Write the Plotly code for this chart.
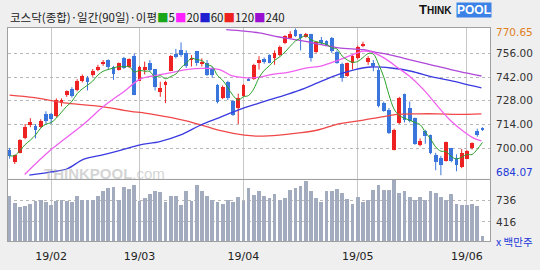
import plotly.graph_objects as go
import pandas as pd

# ---------------- data ----------------
opens = [699.2, 692.1, 697.3, 705.8, 713.9, 713.4, 712.8, 720.0, 720.0, 719.0,
         726.6, 731.3, 735.0, 734.1, 739.8, 741.6, 743.0, 746.0, 749.6, 752.0,
         747.9, 746.4, 753.0, 747.9, 754.3, 739.8, 746.4, 750.5, 746.7, 733.2,
         737.3, 745.4, 755.4, 758.1, 756.2, 752.0, 757.3, 749.8, 750.5, 747.3,
         737.3, 729.4, 739.2, 727.9, 723.7, 730.9, 741.1, 740.7, 750.5, 752.4,
         754.9, 753.0, 754.9, 761.8, 764.8, 769.9, 767.1, 765.6, 767.1, 756.7,
         763.7, 763.3, 765.2, 756.7, 749.8, 742.6, 750.5, 753.0, 760.5, 751.1,
         750.1, 746.4, 726.6, 722.8, 698.9, 714.7, 732.2, 723.7, 717.7, 702.0,
         710.2, 707.7, 695.8, 694.5, 692.6, 700.2, 694.5, 688.9, 693.9, 700.2,
         710.2, 711.8]
highs = [700.2, 696.2, 705.3, 714.3, 717.7, 714.3, 717.1, 721.8, 720.9, 729.4,
         729.4, 734.1, 736.0, 740.7, 743.5, 742.6, 746.7, 749.2, 752.0, 752.4,
         748.6, 750.5, 753.9, 753.0, 755.8, 748.6, 751.1, 752.0, 746.7, 739.2,
         739.8, 754.9, 758.6, 762.4, 757.7, 754.9, 757.3, 753.0, 752.0, 748.2,
         737.9, 737.0, 739.8, 728.4, 732.2, 737.9, 741.6, 749.8, 754.3, 753.5,
         755.4, 757.7, 760.5, 766.7, 769.0, 770.65, 767.5, 768.0, 767.5, 763.0,
         765.6, 763.7, 765.6, 757.7, 750.5, 750.5, 754.9, 760.5, 762.8, 754.3,
         752.0, 747.3, 727.5, 723.7, 711.5, 730.3, 732.2, 727.5, 718.1, 705.8,
         710.9, 708.1, 697.3, 695.5, 703.9, 700.2, 696.4, 699.6, 698.9, 703.4,
         711.5, 712.4]
lows = [693.9, 690.7, 697.0, 705.3, 712.4, 705.8, 712.0, 714.3, 714.3, 718.1,
        724.7, 730.3, 729.8, 733.5, 738.8, 734.1, 742.2, 745.4, 748.6, 746.4,
        740.3, 745.8, 746.7, 747.3, 731.3, 739.8, 743.5, 745.4, 734.1, 730.3,
        726.6, 745.4, 753.0, 753.9, 747.3, 748.2, 748.6, 748.2, 742.6, 741.6,
        726.4, 729.0, 728.4, 719.0, 714.3, 730.3, 739.8, 740.3, 746.4, 749.8,
        750.1, 749.2, 754.3, 761.4, 764.5, 765.6, 757.7, 765.2, 751.1, 756.2,
        761.1, 760.5, 756.2, 749.8, 739.2, 742.2, 746.4, 752.4, 759.6, 749.2,
        745.4, 724.1, 721.5, 708.3, 698.7, 714.3, 715.2, 715.2, 702.0, 701.1,
        702.6, 696.4, 687.0, 684.07, 692.1, 691.7, 686.4, 688.3, 693.6, 699.2,
        706.8, 710.2]
closes = [695.5, 695.8, 704.9, 712.4, 715.2, 710.9, 716.2, 716.2, 717.1, 728.4,
          728.4, 733.5, 730.7, 739.8, 742.6, 739.2, 745.8, 748.2, 751.1, 747.9,
          743.5, 750.1, 747.3, 752.4, 731.3, 748.2, 747.9, 746.4, 736.0, 735.4,
          739.2, 754.3, 753.9, 754.9, 748.6, 753.3, 750.5, 751.1, 743.0, 743.0,
          727.1, 736.4, 729.4, 719.6, 729.4, 737.0, 740.1, 749.2, 752.0, 751.1,
          750.5, 756.2, 759.9, 766.2, 767.5, 766.2, 764.8, 767.5, 753.5, 762.4,
          761.8, 761.1, 757.3, 750.1, 741.6, 750.1, 754.3, 759.9, 761.4, 753.5,
          748.6, 724.7, 722.2, 709.0, 710.9, 729.8, 716.6, 716.2, 702.6, 704.5,
          707.3, 697.3, 692.1, 690.2, 703.4, 692.6, 690.2, 697.3, 698.3, 703.0,
          708.1, 710.5]
volumes = [809, 707, 649, 668, 692, 731, 751, 721, 683, 736,
           751, 736, 721, 809, 760, 760, 760, 809, 886, 935,
           949, 760, 949, 915, 983, 741, 780, 848, 886, 872,
           721, 809, 809, 683, 886, 736, 974, 886, 809, 760,
           721, 692, 755, 721, 794, 736, 935, 823, 886, 809,
           780, 848, 760, 789, 911, 940, 959, 1041, 896, 789,
           721, 886, 886, 925, 857, 775, 692, 799, 721, 760,
           911, 974, 901, 911, 1051, 857, 896, 799, 760, 794,
           760, 896, 857, 799, 760, 848, 692, 683, 683, 692,
           658, 212]

# moving averages at sample positions (day index, value)
ma20_idx = [2.9, 8, 14.3, 18.1, 22.3, 25.1, 27.6, 30.9, 34, 37.2, 40.4, 42.9, 45.2,
            47.4, 50.6, 53.8, 57, 60.1, 63.3, 65.8, 68.1, 69.7, 72.2, 74.8, 77.3,
            79.8, 82.4, 84.9, 87.5, 89.4, 90.8]
ma20_val = [684.5, 699.2, 714.3, 724.7, 734.1, 740.7, 742.6, 744.5, 746.4, 747.1, 746.4,
            742.6, 741.6, 741.6, 743.5, 744.9, 747.3, 748.6, 752.0, 754.9, 757.3,
            756.7, 753.0, 747.3, 741.6, 734.1, 724.7, 716.2, 709.6, 705.8, 704.3]
ma60_idx = [3.8, 8, 11.1, 14.3, 17.5, 22.3, 25.1, 28.9, 32.8, 36.6, 40.4, 44.2, 48.0,
            51.9, 55.7, 59.5, 63.3, 66.5, 69.6, 73.4, 77.3, 81.1, 84.9, 88.7, 90.8]
ma60_val = [684.1, 686.0, 687.9, 693.6, 695.8, 699.6, 702.0, 703.9, 707.7, 713.4,
            718.1, 722.8, 726.6, 730.3, 734.1, 738.8, 743.5, 746.4, 747.9, 747.3,
            745.4, 742.2, 739.8, 737.0, 735.6]
ma120_idx = [0, 4.8, 11.1, 17.5, 22.3, 27.6, 34, 40.4, 45.2, 48, 51.9, 55.7, 59.5,
             63.3, 68.1, 70.9, 74.7, 78.6, 82.4, 86.2, 90.8]
ma120_val = [731.3, 729.8, 726.6, 724.7, 722.2, 720.0, 716.2, 710.5, 707.7, 707.1,
             707.7, 709.0, 710.9, 714.3, 716.6, 718.1, 720.0, 720.3, 720.3, 720.0, 720.3]
ma240_idx = [41.7, 45.2, 48, 51.9, 55.7, 59.5, 63.3, 68.1, 70.3, 73.4, 77.3, 81.1,
             84.9, 88.7, 90.8]
ma240_val = [769.9, 769.0, 768.0, 765.6, 763.7, 761.4, 759.2, 758.1, 756.7, 754.9,
             752.0, 749.2, 746.4, 743.9, 742.6]

month_idx = [8, 25, 45, 67, 88]
month_labels = ["19/02", "19/03", "19/04", "19/05", "19/06"]
price_ticks = [700, 714, 728, 742, 756]
vol_ticks = [416, 736]
price_max_label = "770.65"
price_min_label = "684.07"

# ---------------------------------------------------------------
days = list(range(len(closes)))
ma5 = pd.Series(closes).rolling(5, min_periods=1).mean().tolist()

RED = "#ee2222"
BLUE = "#3a76dc"

fig = go.Figure()

# candles drawn as wick lines + body bars
for up, col in ((True, RED), (False, BLUE)):
    sel = [i for i in days if (closes[i] >= opens[i]) == up]
    wx, wy = [], []
    for i in sel:
        wx += [i, i, None]
        wy += [lows[i], highs[i], None]
    fig.add_trace(go.Scatter(x=wx, y=wy, mode="lines", line=dict(color=col, width=1),
                             showlegend=False, hoverinfo="skip", xaxis="x", yaxis="y"))
    base = [min(opens[i], closes[i]) for i in sel]
    height = [max(abs(closes[i] - opens[i]), 0.45) for i in sel]
    fig.add_trace(go.Bar(x=sel, y=height, base=base, width=0.72,
                         marker=dict(color=col, line=dict(width=0)),
                         showlegend=False, hoverinfo="skip", xaxis="x", yaxis="y"))

ma_specs = [
    (ma120_idx, ma120_val, "#f04848"),
    (ma60_idx, ma60_val, "#3a3ae0"),
    (ma240_idx, ma240_val, "#b048d8"),
    (ma20_idx, ma20_val, "#f060f0"),
]
for xi, yv, col in ma_specs:
    fig.add_trace(go.Scatter(x=xi, y=yv, mode="lines", line=dict(color=col, width=1.3, shape="spline"),
                             showlegend=False, hoverinfo="skip", xaxis="x", yaxis="y"))
fig.add_trace(go.Scatter(x=days, y=ma5, mode="lines", line=dict(color="#2aa02a", width=1, shape="spline"),
                         showlegend=False, hoverinfo="skip", xaxis="x", yaxis="y"))

fig.add_trace(go.Bar(x=days, y=volumes, marker=dict(color="#a3abbf", line=dict(width=0)),
                     width=0.72, showlegend=False, xaxis="x2", yaxis="y2"))

xcommon = dict(range=[-0.3, 92.45], tickmode="array", tickvals=month_idx,
               showgrid=True, gridcolor="#c8c8c8", gridwidth=1,
               showline=True, mirror=True, linecolor="#a0a0a0", linewidth=1,
               zeroline=False, fixedrange=True)

fig.update_layout(
    width=540, height=270,
    margin=dict(l=7, r=47, t=28, b=20),
    paper_bgcolor="#efefef", plot_bgcolor="#ffffff",
    barmode="overlay", bargap=0,
    xaxis=dict(**xcommon, showticklabels=False, anchor="y"),
    xaxis2=dict(**xcommon, ticktext=month_labels, showticklabels=True, anchor="y2",
                ticks="outside", ticklen=5, tickcolor="rgba(0,0,0,0)",
                tickfont=dict(family="DejaVu Sans", size=11, color="#222")),
    yaxis=dict(domain=[0.293, 1], range=[682.1, 770.9], side="right",
               tickmode="array", tickvals=price_ticks, ticktext=[f"{v:.2f}" for v in price_ticks],
               showgrid=True, gridcolor="#b8b8b8", griddash="dot", gridwidth=1,
               showline=True, mirror=True, linecolor="#a0a0a0", zeroline=False,
               ticks="", ticklabelstandoff=3,
               tickfont=dict(family="DejaVu Sans", size=10.5, color="#333"), anchor="x"),
    yaxis2=dict(domain=[0, 0.288], range=[125, 1056], side="right",
                tickmode="array", tickvals=vol_ticks, ticktext=[str(v) for v in vol_ticks],
                showgrid=True, gridcolor="#b8b8b8", griddash="dot", gridwidth=1,
                showline=True, mirror=True, linecolor="#a0a0a0", zeroline=False,
                ticks="", ticklabelstandoff=3,
                tickfont=dict(family="DejaVu Sans", size=10.5, color="#333"), anchor="x2"),
)

title_html = ("코스닥(종합)·일간(90일)·이평"
              "<span style='color:#19a619'>■</span>5"
              "<span style='color:#ff20ff'>■</span>20"
              "<span style='color:#2020d0'>■</span>60"
              "<span style='color:#ee2020'>■</span>120"
              "<span style='color:#9a10d0'>■</span>240")
annotations = [
    dict(text=title_html, x=0.0, y=1.05, xref="paper", yref="paper", showarrow=False,
         xanchor="left", yanchor="middle",
         font=dict(family="Noto Sans CJK KR", size=11.5, color="#222")),
    dict(text=price_max_label, x=1.008, y=768.8, xref="paper", yref="y", showarrow=False,
         xanchor="left", yanchor="middle", font=dict(family="DejaVu Sans", size=10.5, color="#e0801e")),
    dict(text=price_min_label, x=1.008, y=686.2, xref="paper", yref="y", showarrow=False,
         xanchor="left", yanchor="middle", font=dict(family="DejaVu Sans", size=10.5, color="#2238d8")),
    dict(text="x 백만주", x=1.008, y=0.0, xref="paper", yref="paper", showarrow=False,
         xanchor="left", yanchor="middle", font=dict(family="Noto Sans CJK KR", size=10.5, color="#2238d8")),
    dict(text="<b>T<span style='font-size:10px'>HINK</span></b>", x=0.848, y=1.085, xref="paper", yref="paper",
         showarrow=False, xanchor="left", yanchor="middle",
         font=dict(family="Liberation Sans", size=13, color="#111")),
    dict(text="<b>POOL</b>", x=0.929, y=1.085, xref="paper", yref="paper",
         showarrow=False, xanchor="left", yanchor="middle", bgcolor="#3b82e6", borderpad=0,
         font=dict(family="Liberation Sans", size=12, color="#ffffff")),
    dict(text="<b>THINKPOOL</b>.com", x=0.07, y=0.318, xref="paper", yref="paper",
         showarrow=False, xanchor="left", yanchor="middle",
         font=dict(family="Liberation Sans", size=15, color="rgba(170,170,170,0.5)")),
]
fig.update_layout(annotations=annotations)

fig.write_html("out.html")
